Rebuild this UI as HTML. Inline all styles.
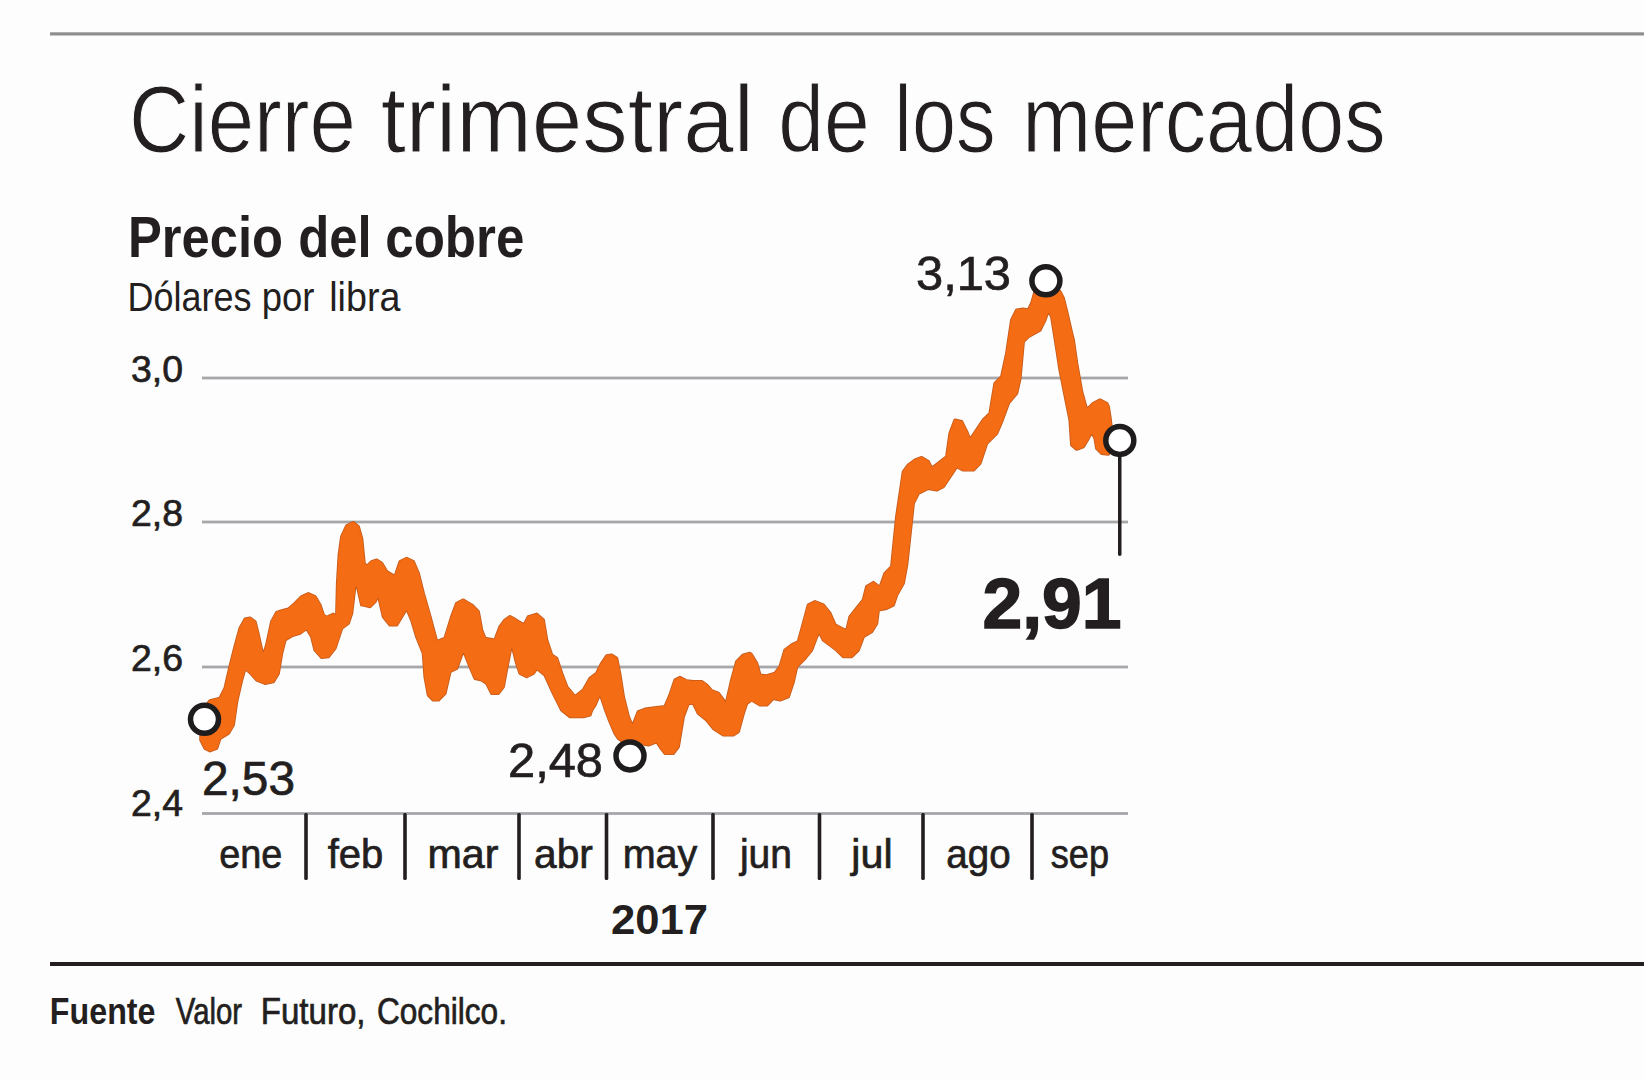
<!DOCTYPE html>
<html><head><meta charset="utf-8"><style>
html,body{margin:0;padding:0;background:#fdfdfd;width:1644px;height:1080px;overflow:hidden}
svg{display:block}
text{font-family:"Liberation Sans", sans-serif;fill:#231f20}
</style></head><body>
<svg width="1644" height="1080" viewBox="0 0 1644 1080">
<rect x="50" y="32.3" width="1594" height="3.2" fill="#8e8e8e"/>
<rect x="50" y="962" width="1594" height="4" fill="#231f20"/>
<rect x="202" y="376.6" width="926" height="2.8" fill="#a7a7ab"/>
<rect x="202" y="520.6" width="926" height="2.8" fill="#a7a7ab"/>
<rect x="202" y="665.6" width="926" height="2.8" fill="#a7a7ab"/>
<rect x="202" y="812.1" width="926" height="2.8" fill="#a7a7ab"/>
<rect x="304.2" y="813" width="3.6" height="67" rx="1.5" fill="#231f20"/>
<rect x="403.2" y="813" width="3.6" height="67" rx="1.5" fill="#231f20"/>
<rect x="517.2" y="813" width="3.6" height="67" rx="1.5" fill="#231f20"/>
<rect x="604.7" y="813" width="3.6" height="67" rx="1.5" fill="#231f20"/>
<rect x="711.2" y="813" width="3.6" height="67" rx="1.5" fill="#231f20"/>
<rect x="817.7" y="813" width="3.6" height="67" rx="1.5" fill="#231f20"/>
<rect x="921.2" y="813" width="3.6" height="67" rx="1.5" fill="#231f20"/>
<rect x="1030.2" y="813" width="3.6" height="67" rx="1.5" fill="#231f20"/>
<text x="128.97" y="151.8" font-size="94" font-weight="normal" text-anchor="start" textLength="226.92" lengthAdjust="spacingAndGlyphs" stroke="#fdfdfd" stroke-width="1.1">Cierre</text>
<text x="380.63" y="151.8" font-size="94" font-weight="normal" text-anchor="start" textLength="373.21" lengthAdjust="spacingAndGlyphs" stroke="#fdfdfd" stroke-width="1.1">trimestral</text>
<text x="778.2" y="151.8" font-size="94" font-weight="normal" text-anchor="start" textLength="91.38" lengthAdjust="spacingAndGlyphs" stroke="#fdfdfd" stroke-width="1.1">de</text>
<text x="894.34" y="151.8" font-size="94" font-weight="normal" text-anchor="start" textLength="101.33" lengthAdjust="spacingAndGlyphs" stroke="#fdfdfd" stroke-width="1.1">los</text>
<text x="1022.22" y="151.8" font-size="94" font-weight="normal" text-anchor="start" textLength="363.36" lengthAdjust="spacingAndGlyphs" stroke="#fdfdfd" stroke-width="1.1">mercados</text>
<text x="127.94" y="256.7" font-size="57" font-weight="bold" text-anchor="start" textLength="155.08" lengthAdjust="spacingAndGlyphs" >Precio</text>
<text x="298.22" y="256.7" font-size="57" font-weight="bold" text-anchor="start" textLength="73.47" lengthAdjust="spacingAndGlyphs" >del</text>
<text x="385.21" y="256.7" font-size="57" font-weight="bold" text-anchor="start" textLength="139.2" lengthAdjust="spacingAndGlyphs" >cobre</text>
<text x="127.57" y="311.4" font-size="41" font-weight="normal" text-anchor="start" textLength="123.85" lengthAdjust="spacingAndGlyphs" >Dólares</text>
<text x="261.73" y="311.4" font-size="41" font-weight="normal" text-anchor="start" textLength="52.7" lengthAdjust="spacingAndGlyphs" >por</text>
<text x="329.24" y="311.4" font-size="41" font-weight="normal" text-anchor="start" textLength="71.29" lengthAdjust="spacingAndGlyphs" >libra</text>
<text x="49.86" y="1023.8" font-size="37" font-weight="bold" text-anchor="start" textLength="105.66" lengthAdjust="spacingAndGlyphs" >Fuente</text>
<text x="175.8" y="1024.2" font-size="37" font-weight="normal" text-anchor="start" textLength="66.21" lengthAdjust="spacingAndGlyphs" stroke="#231f20" stroke-width="0.7">Valor</text>
<text x="260.72" y="1024.2" font-size="37" font-weight="normal" text-anchor="start" textLength="104.76" lengthAdjust="spacingAndGlyphs" stroke="#231f20" stroke-width="0.7">Futuro,</text>
<text x="376.99" y="1024.2" font-size="37" font-weight="normal" text-anchor="start" textLength="129.93" lengthAdjust="spacingAndGlyphs" stroke="#231f20" stroke-width="0.7">Cochilco.</text>
<text x="131" y="381.5" font-size="37" font-weight="normal" text-anchor="start" textLength="52" lengthAdjust="spacingAndGlyphs" stroke="#231f20" stroke-width="0.7">3,0</text>
<text x="131" y="526" font-size="37" font-weight="normal" text-anchor="start" textLength="52" lengthAdjust="spacingAndGlyphs" stroke="#231f20" stroke-width="0.7">2,8</text>
<text x="131" y="671" font-size="37" font-weight="normal" text-anchor="start" textLength="52" lengthAdjust="spacingAndGlyphs" stroke="#231f20" stroke-width="0.7">2,6</text>
<text x="131" y="816" font-size="37" font-weight="normal" text-anchor="start" textLength="52" lengthAdjust="spacingAndGlyphs" stroke="#231f20" stroke-width="0.7">2,4</text>
<text x="250.8" y="868" font-size="40" font-weight="normal" text-anchor="middle" textLength="63.1" lengthAdjust="spacingAndGlyphs" stroke="#231f20" stroke-width="0.7">ene</text>
<text x="355.5" y="868" font-size="40" font-weight="normal" text-anchor="middle" textLength="55.6" lengthAdjust="spacingAndGlyphs" stroke="#231f20" stroke-width="0.7">feb</text>
<text x="463.0" y="868" font-size="40" font-weight="normal" text-anchor="middle" textLength="70.9" lengthAdjust="spacingAndGlyphs" stroke="#231f20" stroke-width="0.7">mar</text>
<text x="563.5" y="868" font-size="40" font-weight="normal" text-anchor="middle" textLength="58.8" lengthAdjust="spacingAndGlyphs" stroke="#231f20" stroke-width="0.7">abr</text>
<text x="660.0" y="868" font-size="40" font-weight="normal" text-anchor="middle" textLength="74.7" lengthAdjust="spacingAndGlyphs" stroke="#231f20" stroke-width="0.7">may</text>
<text x="766.0" y="868" font-size="40" font-weight="normal" text-anchor="middle" textLength="52.1" lengthAdjust="spacingAndGlyphs" stroke="#231f20" stroke-width="0.7">jun</text>
<text x="872.0" y="868" font-size="40" font-weight="normal" text-anchor="middle" textLength="41.3" lengthAdjust="spacingAndGlyphs" stroke="#231f20" stroke-width="0.7">jul</text>
<text x="978.5" y="868" font-size="40" font-weight="normal" text-anchor="middle" textLength="64.3" lengthAdjust="spacingAndGlyphs" stroke="#231f20" stroke-width="0.7">ago</text>
<text x="1079.9" y="868" font-size="40" font-weight="normal" text-anchor="middle" textLength="58.2" lengthAdjust="spacingAndGlyphs" stroke="#231f20" stroke-width="0.7">sep</text>
<text x="659.5" y="934.3" font-size="42.5" font-weight="bold" text-anchor="middle" textLength="97" lengthAdjust="spacingAndGlyphs" >2017</text>
<path d="M200.83,736.67 L205,706.67 L210,700.83 L220,698.33 L225,688.33 L230,666.67 L235,646.67 L240,628.33 L245,619.17 L250,618 L255,621.67 L258.33,635 L261.67,650 L263.33,655.83 L266.67,645 L271.67,621.67 L276.67,612.5 L281.67,610.83 L288.33,609.17 L295,603.33 L301.67,596.67 L308.33,593.67 L315,596.67 L320,605 L323.33,615 L326.67,617.5 L333.33,614.17 L336.67,616.67 L337.5,583.33 L339.17,555 L341.67,536.67 L346.67,525.83 L353.33,522.5 L358.33,526.67 L361.67,538.33 L364.17,563.33 L366.67,566.67 L371.67,561.67 L376.67,560 L381.67,563.33 L386.67,571.67 L395,576.67 L400,561.67 L406.67,558.33 L413.33,561.67 L418.33,573.33 L423.33,593.33 L430,616.67 L436.67,641.67 L445,638.33 L451.67,616.67 L456.67,603.33 L463.33,600 L471.67,605 L478.33,611.67 L481.67,630 L485,638.33 L495,640 L500,626.67 L505,620 L510,616.67 L513.33,618.33 L518.33,621.67 L524.17,625 L528.33,616.67 L536.67,614.17 L543.33,620 L546.67,640 L551.67,655 L556.67,658.33 L561.67,673.33 L566.67,686.67 L575,696.67 L583.33,690 L590,678.33 L596.67,673.33 L601.67,663.33 L606.67,655.83 L611.67,655 L616.67,658.33 L620,675 L623.33,696.67 L628.33,716.67 L632.5,726.67 L638.33,711.67 L645,709.17 L656.67,707.5 L665,706.67 L670,695 L675,680 L680,677.5 L686.67,680.83 L693.33,681.67 L701.67,681.67 L706.67,685 L711.67,690.83 L718.33,693.33 L723.33,700 L725.83,705 L731.67,680 L736.67,661.67 L743.33,655 L750,653.33 L751.67,655 L756.67,663.33 L760,675 L766.67,675.83 L775,673.33 L780,666.67 L785,650 L791.67,645 L798.33,641.67 L803.33,623.33 L808.33,605 L815,601.67 L823.33,605 L830,613.33 L835,625 L841.67,628.33 L846.67,630.83 L850,616.67 L856.67,608.33 L863.33,600 L866.67,586.67 L873.33,582.5 L880,587.5 L885,573.33 L891.67,566.67 L896.67,516.67 L903.33,471.67 L908.33,465 L915,460 L921.67,457.5 L928.33,461.67 L931.67,468.33 L938.33,463.33 L946.67,456.67 L950,433.33 L955,420 L961.67,421.67 L966.67,431.67 L970,440 L976.67,430 L983.33,420 L990,413.33 L995,383.33 L1001.67,376.67 L1006.67,353.33 L1011.67,320 L1016.67,310 L1023.33,309.17 L1028.33,310 L1031.67,303.33 L1035,291.67 L1043.33,290.83 L1053.33,290.83 L1060,291.67 L1063.33,298.33 L1066.67,311.67 L1071.67,333.33 L1073.33,340 L1076.67,363.33 L1081.67,391.67 L1086.67,410 L1093.33,403.33 L1100,400 L1106.67,403.33 L1108.33,406.67 L1110,417.5 L1110.83,424.17 L1113,440 L1108.33,454.17 L1101.67,453.33 L1096.67,448.33 L1095,438.33 L1091.67,431.67 L1088.33,438.33 L1083.33,446.67 L1076.67,449.17 L1071.67,445 L1070,420 L1066.67,403.33 L1060,370 L1056.67,348.33 L1051.67,316.67 L1048.33,310 L1045,320 L1040,330 L1028.33,336.67 L1023.33,341.67 L1020,378.33 L1016.67,393.33 L1008.33,403.33 L1001.67,421.67 L996.67,433.33 L986.67,443.33 L980,463.33 L973.33,470 L963.33,470 L956.67,466.67 L950,476.67 L943.33,486.67 L936.67,490 L928.33,488.33 L918.33,493.33 L913.33,503.33 L908.33,550 L906.67,565 L903.33,583.33 L896.67,595 L893.33,605 L886.67,608.33 L878.33,610 L876.67,623.33 L871.67,631.67 L863.33,636.67 L858.33,650 L851.67,656.67 L843.33,656.67 L836.67,650 L830,645 L823.33,640 L819.17,631.67 L816.67,636.67 L811.67,650 L805,658.33 L796.67,666.67 L793.33,681.67 L788.33,696.67 L780,700 L773.33,698.33 L766.67,705 L760,705 L751.67,700 L746.67,703.33 L743.33,713.33 L738.33,731.67 L733.33,735 L723.33,735 L713.33,728.33 L706.67,720 L698.33,713.33 L693.33,703.33 L688.33,703.33 L683.33,716.67 L678.33,746.67 L673.33,753.33 L665,753.33 L660,746.67 L656.67,741.67 L648.33,745 L640,743.33 L623.33,741.67 L618.33,738.33 L615,733.33 L610,721.67 L605,708.33 L600,693.33 L595,705 L591.67,710 L590,715 L583.33,716.67 L570,716.67 L561.67,710 L553.33,693.33 L545,675 L536.67,668.33 L533.33,673.33 L526.67,676.67 L520,673.33 L516.67,663.33 L511.67,643.33 L506.67,668.33 L503.33,686.67 L498.33,693.33 L491.67,693.33 L486.67,683.33 L481.67,680 L475,678.33 L470,666.67 L463.33,650 L456.67,668.33 L450,671.67 L445,693.33 L438.33,700 L433.33,700 L428.33,695 L425,676.67 L423.33,653.33 L416.67,636.67 L411.67,620 L406.67,608.33 L401.67,616.67 L396.67,625 L390,625 L383.33,616.67 L378.33,595 L375,601.67 L370,606.67 L363.33,605 L361.67,605 L357.5,586.67 L355,585 L351.67,613.33 L348.33,623.33 L341.67,628.33 L338.33,638.33 L335,648.33 L328.33,656.67 L321.67,657.5 L315,650 L311.67,636.67 L306.67,628.33 L300,633.33 L291.67,635.83 L285,640 L281.67,653.33 L278.33,673.33 L273.33,681.67 L265,683.33 L256.67,680 L250,672.5 L245,668.33 L241.67,680 L236.67,701.67 L233.33,725 L228.33,733.33 L220,738.33 L216.67,748.33 L210,750.83 L205,748.33 L200.83,740 Z" fill="#c25a1c" stroke="#c25a1c" stroke-width="3.2" stroke-linejoin="round"/>
<path d="M200.83,736.67 L205,706.67 L210,700.83 L220,698.33 L225,688.33 L230,666.67 L235,646.67 L240,628.33 L245,619.17 L250,618 L255,621.67 L258.33,635 L261.67,650 L263.33,655.83 L266.67,645 L271.67,621.67 L276.67,612.5 L281.67,610.83 L288.33,609.17 L295,603.33 L301.67,596.67 L308.33,593.67 L315,596.67 L320,605 L323.33,615 L326.67,617.5 L333.33,614.17 L336.67,616.67 L337.5,583.33 L339.17,555 L341.67,536.67 L346.67,525.83 L353.33,522.5 L358.33,526.67 L361.67,538.33 L364.17,563.33 L366.67,566.67 L371.67,561.67 L376.67,560 L381.67,563.33 L386.67,571.67 L395,576.67 L400,561.67 L406.67,558.33 L413.33,561.67 L418.33,573.33 L423.33,593.33 L430,616.67 L436.67,641.67 L445,638.33 L451.67,616.67 L456.67,603.33 L463.33,600 L471.67,605 L478.33,611.67 L481.67,630 L485,638.33 L495,640 L500,626.67 L505,620 L510,616.67 L513.33,618.33 L518.33,621.67 L524.17,625 L528.33,616.67 L536.67,614.17 L543.33,620 L546.67,640 L551.67,655 L556.67,658.33 L561.67,673.33 L566.67,686.67 L575,696.67 L583.33,690 L590,678.33 L596.67,673.33 L601.67,663.33 L606.67,655.83 L611.67,655 L616.67,658.33 L620,675 L623.33,696.67 L628.33,716.67 L632.5,726.67 L638.33,711.67 L645,709.17 L656.67,707.5 L665,706.67 L670,695 L675,680 L680,677.5 L686.67,680.83 L693.33,681.67 L701.67,681.67 L706.67,685 L711.67,690.83 L718.33,693.33 L723.33,700 L725.83,705 L731.67,680 L736.67,661.67 L743.33,655 L750,653.33 L751.67,655 L756.67,663.33 L760,675 L766.67,675.83 L775,673.33 L780,666.67 L785,650 L791.67,645 L798.33,641.67 L803.33,623.33 L808.33,605 L815,601.67 L823.33,605 L830,613.33 L835,625 L841.67,628.33 L846.67,630.83 L850,616.67 L856.67,608.33 L863.33,600 L866.67,586.67 L873.33,582.5 L880,587.5 L885,573.33 L891.67,566.67 L896.67,516.67 L903.33,471.67 L908.33,465 L915,460 L921.67,457.5 L928.33,461.67 L931.67,468.33 L938.33,463.33 L946.67,456.67 L950,433.33 L955,420 L961.67,421.67 L966.67,431.67 L970,440 L976.67,430 L983.33,420 L990,413.33 L995,383.33 L1001.67,376.67 L1006.67,353.33 L1011.67,320 L1016.67,310 L1023.33,309.17 L1028.33,310 L1031.67,303.33 L1035,291.67 L1043.33,290.83 L1053.33,290.83 L1060,291.67 L1063.33,298.33 L1066.67,311.67 L1071.67,333.33 L1073.33,340 L1076.67,363.33 L1081.67,391.67 L1086.67,410 L1093.33,403.33 L1100,400 L1106.67,403.33 L1108.33,406.67 L1110,417.5 L1110.83,424.17 L1113,440 L1108.33,454.17 L1101.67,453.33 L1096.67,448.33 L1095,438.33 L1091.67,431.67 L1088.33,438.33 L1083.33,446.67 L1076.67,449.17 L1071.67,445 L1070,420 L1066.67,403.33 L1060,370 L1056.67,348.33 L1051.67,316.67 L1048.33,310 L1045,320 L1040,330 L1028.33,336.67 L1023.33,341.67 L1020,378.33 L1016.67,393.33 L1008.33,403.33 L1001.67,421.67 L996.67,433.33 L986.67,443.33 L980,463.33 L973.33,470 L963.33,470 L956.67,466.67 L950,476.67 L943.33,486.67 L936.67,490 L928.33,488.33 L918.33,493.33 L913.33,503.33 L908.33,550 L906.67,565 L903.33,583.33 L896.67,595 L893.33,605 L886.67,608.33 L878.33,610 L876.67,623.33 L871.67,631.67 L863.33,636.67 L858.33,650 L851.67,656.67 L843.33,656.67 L836.67,650 L830,645 L823.33,640 L819.17,631.67 L816.67,636.67 L811.67,650 L805,658.33 L796.67,666.67 L793.33,681.67 L788.33,696.67 L780,700 L773.33,698.33 L766.67,705 L760,705 L751.67,700 L746.67,703.33 L743.33,713.33 L738.33,731.67 L733.33,735 L723.33,735 L713.33,728.33 L706.67,720 L698.33,713.33 L693.33,703.33 L688.33,703.33 L683.33,716.67 L678.33,746.67 L673.33,753.33 L665,753.33 L660,746.67 L656.67,741.67 L648.33,745 L640,743.33 L623.33,741.67 L618.33,738.33 L615,733.33 L610,721.67 L605,708.33 L600,693.33 L595,705 L591.67,710 L590,715 L583.33,716.67 L570,716.67 L561.67,710 L553.33,693.33 L545,675 L536.67,668.33 L533.33,673.33 L526.67,676.67 L520,673.33 L516.67,663.33 L511.67,643.33 L506.67,668.33 L503.33,686.67 L498.33,693.33 L491.67,693.33 L486.67,683.33 L481.67,680 L475,678.33 L470,666.67 L463.33,650 L456.67,668.33 L450,671.67 L445,693.33 L438.33,700 L433.33,700 L428.33,695 L425,676.67 L423.33,653.33 L416.67,636.67 L411.67,620 L406.67,608.33 L401.67,616.67 L396.67,625 L390,625 L383.33,616.67 L378.33,595 L375,601.67 L370,606.67 L363.33,605 L361.67,605 L357.5,586.67 L355,585 L351.67,613.33 L348.33,623.33 L341.67,628.33 L338.33,638.33 L335,648.33 L328.33,656.67 L321.67,657.5 L315,650 L311.67,636.67 L306.67,628.33 L300,633.33 L291.67,635.83 L285,640 L281.67,653.33 L278.33,673.33 L273.33,681.67 L265,683.33 L256.67,680 L250,672.5 L245,668.33 L241.67,680 L236.67,701.67 L233.33,725 L228.33,733.33 L220,738.33 L216.67,748.33 L210,750.83 L205,748.33 L200.83,740 Z" fill="#f46c14" stroke="#f46c14" stroke-width="1.6" stroke-linejoin="round"/>
<text x="202" y="795" font-size="48" font-weight="normal" text-anchor="start" textLength="93" lengthAdjust="spacingAndGlyphs" stroke="#231f20" stroke-width="0.7">2,53</text>
<text x="508" y="777" font-size="48" font-weight="normal" text-anchor="start" textLength="95" lengthAdjust="spacingAndGlyphs" stroke="#231f20" stroke-width="0.7">2,48</text>
<text x="916" y="290" font-size="48" font-weight="normal" text-anchor="start" textLength="95" lengthAdjust="spacingAndGlyphs" stroke="#231f20" stroke-width="0.7">3,13</text>
<text x="982.5" y="627.8" font-size="71" font-weight="bold" text-anchor="start" textLength="139" lengthAdjust="spacingAndGlyphs" stroke="#231f20" stroke-width="1.5">2,91</text>
<rect x="1118" y="452" width="3.5" height="104" rx="1.7" fill="#231f20"/>
<circle cx="204.5" cy="719.3" r="14" fill="#fff" stroke="#1e1c1d" stroke-width="5.5"/>
<circle cx="630" cy="755.9" r="14" fill="#fff" stroke="#1e1c1d" stroke-width="5.5"/>
<circle cx="1045.9" cy="280.8" r="14" fill="#fff" stroke="#1e1c1d" stroke-width="5.5"/>
<circle cx="1119.8" cy="440.4" r="14" fill="#fff" stroke="#1e1c1d" stroke-width="5.5"/>
</svg>
</body></html>
